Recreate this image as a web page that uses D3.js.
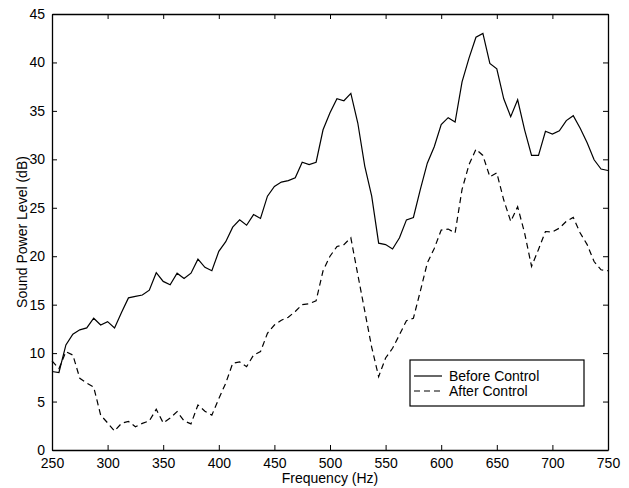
<!DOCTYPE html>
<html>
<head>
<meta charset="utf-8">
<script src="https://cdn.jsdelivr.net/npm/d3@7"></script>
<style>
  body { margin: 0; background: #fff; }
  svg { display: block; font-family: "Liberation Sans", Arial, sans-serif; }
</style>
</head>
<body>
<svg id="chart"></svg>
<script>
// frequency grid: 6.25 Hz steps from 250 to 750
const freqs = d3.range(81).map((i) => 250 + i * 6.25);

const beforeControl = [
  8.1, 8.0, 10.85, 11.95, 12.4, 12.6, 13.6, 12.9, 13.25, 12.6,
  14.2, 15.7, 15.85, 16.0, 16.5, 18.3, 17.4, 17.05, 18.25, 17.7,
  18.25, 19.7, 18.85, 18.5, 20.5, 21.5, 23.0, 23.75, 23.2, 24.3,
  23.9, 26.2, 27.2, 27.65, 27.8, 28.1, 29.7, 29.45, 29.7, 33.05,
  34.8, 36.25, 36.05, 36.8, 33.75, 29.3, 26.2, 21.35, 21.2, 20.75,
  21.9, 23.75, 24.0, 26.9, 29.6, 31.3, 33.6, 34.3, 33.85, 38.0,
  40.45, 42.6, 43.0, 39.9, 39.35, 36.25, 34.4, 36.15, 33.05, 30.4,
  30.4, 32.9, 32.6, 32.95, 34.0, 34.5, 33.2, 31.7, 29.95, 29.0,
  28.85
];

const afterControl = [
  9.2, 8.4, 10.15, 9.8, 7.4, 6.9, 6.5, 3.6, 2.8, 1.96,
  2.75, 2.95, 2.4, 2.75, 3.0, 4.2, 2.8, 3.3, 3.96, 3.0,
  2.7, 4.65, 4.0, 3.6, 5.3, 6.9, 8.95, 9.1, 8.6, 9.8,
  10.15, 12.05, 12.9, 13.4, 13.7, 14.3, 15.0, 15.1, 15.4, 18.5,
  20.0, 21.0, 21.2, 21.9, 18.1, 14.35, 10.6, 7.57, 9.5, 10.5,
  11.9, 13.35, 13.6, 16.4, 19.3, 20.8, 22.7, 22.8, 22.4, 26.9,
  29.45, 31.05, 30.4, 28.2, 28.6, 25.8, 23.6, 25.1, 22.4, 18.95,
  20.7, 22.55, 22.5, 22.9, 23.6, 24.0, 22.4, 21.2, 19.45, 18.6,
  18.5
];

const xTicks = [250, 300, 350, 400, 450, 500, 550, 600, 650, 700, 750];
const yTicks = [0, 5, 10, 15, 20, 25, 30, 35, 40, 45];
const seriesNames = ["Before Control", "After Control"];

const W = 629, H = 488;
const margin = { top: 14, right: 21, bottom: 38, left: 52 },
  width = W - margin.left - margin.right,
  height = H - margin.top - margin.bottom;

const svg = d3.select("#chart").attr("width", W).attr("height", H);
const g = svg.append("g").attr("transform", `translate(${margin.left},${margin.top})`);

const x = d3.scaleLinear().domain([250, 750]).range([0, width]);
const y = d3.scaleLinear().domain([0, 45]).range([height, 0]);

// axes with inward ticks on all four sides
const tickLen = 5;
const styleAxis = (sel) => {
  sel.select(".domain").attr("stroke", "#000").attr("stroke-width", 1.3);
  sel.selectAll(".tick line").attr("stroke", "#000").attr("stroke-width", 1);
  sel.selectAll(".tick text").attr("fill", "#000").style("font-size", "14px")
    .style("font-family", "'Liberation Sans', Arial, sans-serif");
};

g.append("g")
  .attr("transform", `translate(0,${height})`)
  .call(d3.axisBottom(x).tickValues(xTicks).tickSize(-tickLen).tickPadding(8).tickSizeOuter(0))
  .call(styleAxis);

g.append("g")
  .call(d3.axisLeft(y).tickValues(yTicks).tickSize(-tickLen).tickPadding(7).tickSizeOuter(0))
  .call(styleAxis);

g.append("g")
  .call(d3.axisTop(x).tickValues(xTicks).tickSize(-tickLen).tickFormat("").tickSizeOuter(0))
  .call(styleAxis);

g.append("g")
  .attr("transform", `translate(${width},0)`)
  .call(d3.axisRight(y).tickValues(yTicks).tickSize(-tickLen).tickFormat("").tickSizeOuter(0))
  .call(styleAxis);

// lines
const line = (vals) => d3.line()
  .x((d, i) => x(freqs[i]))
  .y((d) => y(d))(vals);

g.append("path")
  .attr("d", line(beforeControl))
  .attr("fill", "none")
  .attr("stroke", "#000")
  .attr("stroke-width", 1.2);

g.append("path")
  .attr("d", line(afterControl))
  .attr("fill", "none")
  .attr("stroke", "#000")
  .attr("stroke-width", 1.2)
  .attr("stroke-dasharray", "6,4");

// axis labels
svg.append("text")
  .attr("x", margin.left + width / 2)
  .attr("y", 483)
  .attr("text-anchor", "middle")
  .style("font-size", "14px")
  .text("Frequency (Hz)");

svg.append("text")
  .attr("transform", `translate(27,${margin.top + height / 2}) rotate(-90)`)
  .attr("text-anchor", "middle")
  .style("font-size", "14px")
  .text("Sound Power Level (dB)");

// legend
const legend = svg.append("g").attr("transform", "translate(410,360)");
legend.append("rect")
  .attr("width", 174).attr("height", 46)
  .attr("fill", "#fff").attr("stroke", "#000").attr("stroke-width", 1.2);

seriesNames.forEach((name, i) => {
  const ly = 16 + i * 15;
  legend.append("line")
    .attr("x1", 4).attr("x2", 32).attr("y1", ly).attr("y2", ly)
    .attr("stroke", "#000").attr("stroke-width", 1.2)
    .attr("stroke-dasharray", i === 1 ? "6,4" : null);
  legend.append("text")
    .attr("x", 39).attr("y", ly + 5)
    .style("font-size", "14px")
    .text(name);
});
</script>
</body>
</html>
